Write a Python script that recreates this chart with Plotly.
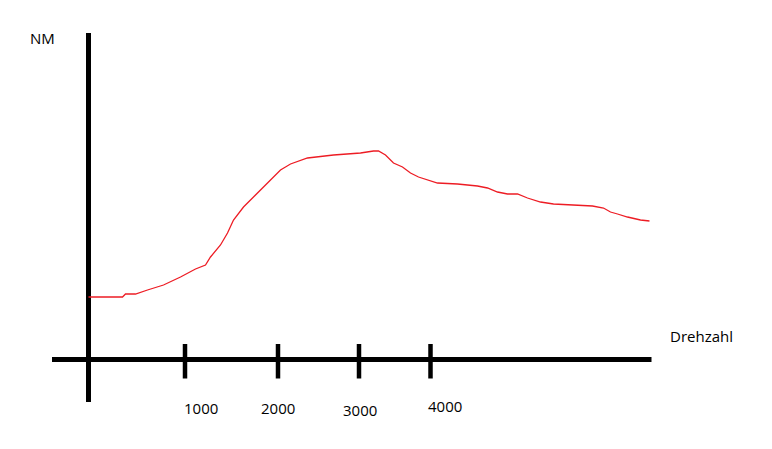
import plotly.graph_objects as go

# Hand-drawn torque curve (chart units: horizontal = Drehzahl scale, vertical = NM scale)
drehzahl = [0, 34, 37, 47, 59, 75, 92, 107, 117, 122, 132, 139, 145, 155, 165, 179, 192, 202,
            219, 245, 272, 285, 290, 297, 305, 314, 322, 330, 339, 349, 369, 389, 399, 409,
            419, 429, 439, 452, 465, 492, 504, 515, 522, 529, 539, 552, 561]
nm = [62.5, 62.5, 65.5, 65.5, 69.5, 74.5, 82.5, 90.5, 94.5, 102.5, 114.5, 126.5, 139.5,
      152.5, 162.5, 176.5, 189.5, 195.5, 201.5, 204.5, 206.5, 208.5, 208.5, 204.5, 196.5,
      192.5, 186.5, 182.5, 179.5, 176.5, 175.5, 173.5, 171.5, 167.5, 165.5, 165.5, 161.5,
      157.5, 155.5, 154.5, 153.5, 151.5, 147.5, 145.5, 142.5, 139.5, 138.5]

# Hand-drawn tick marks and their labels
tick_positions = [96.5, 189.5, 270.5, 342]
tick_labels = ["1000", "2000", "3000", "4000"]
label_x = [112.5, 189, 271.5, 356.5]
label_y = [-48.5, -48, -50, -46]

# Axis extents
x_axis_extent = [-36.5, 563]
y_axis_extent = [-42.5, 326.5]

FONT = "Open Sans"
RED = "#ED1C24"

fig = go.Figure()

# axes
fig.add_trace(go.Scatter(x=x_axis_extent, y=[0, 0], mode="lines",
                         line=dict(color="black", width=5), hoverinfo="skip", showlegend=False))
fig.add_trace(go.Scatter(x=[0, 0], y=y_axis_extent, mode="lines",
                         line=dict(color="black", width=5), hoverinfo="skip", showlegend=False))

# tick marks
tx, ty = [], []
for t in tick_positions:
    tx += [t, t, None]
    ty += [15.5, -19, None]
fig.add_trace(go.Scatter(x=tx, y=ty, mode="lines", connectgaps=False,
                         line=dict(color="black", width=4.5), hoverinfo="skip", showlegend=False))

# curve
fig.add_trace(go.Scatter(x=drehzahl, y=nm, mode="lines",
                         line=dict(color=RED, width=1.3), showlegend=False))

annotations = []
for lx, ly, txt in zip(label_x, label_y, tick_labels):
    annotations.append(dict(x=lx, y=ly, text=txt, showarrow=False, xanchor="center",
                            yanchor="middle", font=dict(family=FONT, size=15, color="black")))
annotations.append(dict(x=-46, y=321.5, text="NM", showarrow=False, xanchor="center",
                        yanchor="middle", font=dict(family=FONT, size=15, color="black")))
annotations.append(dict(x=612.5, y=24, text="Drehzahl", showarrow=False, xanchor="center",
                        yanchor="middle", font=dict(family=FONT, size=15, color="black")))

# page body has an 8px margin, so the figure is drawn 8px in from the window edge
fig.update_layout(
    width=756, height=433,
    margin=dict(l=0, r=0, t=0, b=0),
    paper_bgcolor="white", plot_bgcolor="white",
    xaxis=dict(range=[-80.5, 675.5], visible=False, fixedrange=True),
    yaxis=dict(range=[-81.5, 351.5], visible=False, fixedrange=True),
    annotations=annotations,
    showlegend=False,
)

fig.write_html("out.html", config={"displayModeBar": False})
